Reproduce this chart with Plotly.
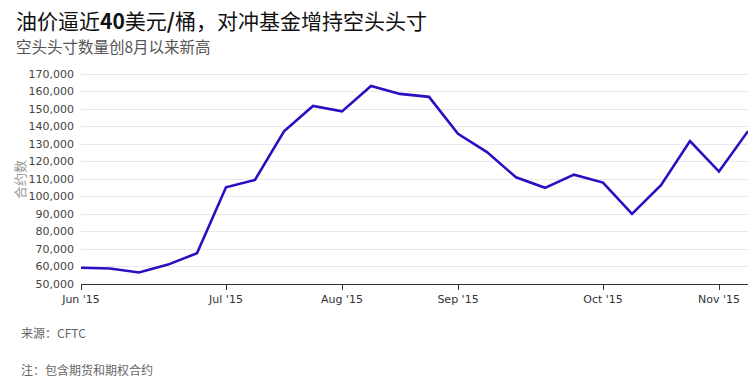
import plotly.graph_objects as go

dates = ["2015-06-02", "2015-06-09", "2015-06-16", "2015-06-23", "2015-06-30",
         "2015-07-07", "2015-07-14", "2015-07-21", "2015-07-28",
         "2015-08-04", "2015-08-11", "2015-08-18", "2015-08-25",
         "2015-09-01", "2015-09-08", "2015-09-15", "2015-09-22", "2015-09-29",
         "2015-10-06", "2015-10-13", "2015-10-20", "2015-10-27",
         "2015-11-03", "2015-11-10"]
short_positions = [59300, 58900, 56600, 61100, 67600,
                   105300, 109500, 137300, 151800,
                   148700, 163200, 158700, 157000,
                   135900, 125400, 111000, 105000, 112500,
                   108000, 90100, 106500, 131700,
                   114300, 137400]
tick_dates = ["2015-06-02", "2015-07-07", "2015-08-04", "2015-09-01", "2015-10-06", "2015-11-03"]
tick_labels = ["Jun '15", "Jul '15", "Aug '15", "Sep '15", "Oct '15", "Nov '15"]
y_ticks = list(range(50000, 170001, 10000))

CJK = "Noto Sans CJK SC"

W, H = 756, 378
pl, pr, pt, pb = 81, 8, 68, 94
pw, ph = W - pl - pr, H - pt - pb

fig = go.Figure()
fig.add_trace(go.Scatter(
    x=dates, y=short_positions, mode="lines",
    line=dict(color="#2a0fc2", width=2.6),
    hoverinfo="skip", showlegend=False,
))

fig.update_layout(
    width=W, height=H,
    margin=dict(l=pl, r=pr, t=pt, b=pb),
    paper_bgcolor="white", plot_bgcolor="white",
    xaxis=dict(
        range=["2015-06-02", "2015-11-10"],
        tickvals=tick_dates, ticktext=tick_labels,
        showgrid=False, zeroline=False,
        showline=True, linecolor="#333", linewidth=1,
        ticks="outside", ticklen=5, tickcolor="#333",
        tickfont=dict(family="DejaVu Sans", size=11, color="#333"),
    ),
    yaxis=dict(
        range=[50000, 173500],
        tickvals=y_ticks, tickformat=",d",
        showgrid=True, gridcolor="#e8e8ee", gridwidth=1,
        zeroline=False, showline=False, ticks="",
        ticklabelstandoff=6,
        tickfont=dict(family="DejaVu Sans", size=11, color="#444"),
    ),
)


def px(x):
    return (x - pl) / pw


def py(y):
    return (H - pb - y) / ph


fig.add_annotation(text="油价逼近<b>40</b>美元<b>/</b>桶，对冲基金增持空头头寸",
                   x=px(14), y=py(20), xref="paper", yref="paper",
                   xanchor="left", yanchor="middle", showarrow=False,
                   font=dict(family=CJK, size=21, color="#111"))
fig.add_annotation(text="空头头寸数量创8月以来新高",
                   x=px(14), y=py(46), xref="paper", yref="paper",
                   xanchor="left", yanchor="middle", showarrow=False,
                   font=dict(family=CJK, size=15.5, color="#555"))
fig.add_annotation(text="合约数",
                   x=px(19), y=py(180), xref="paper", yref="paper",
                   xanchor="center", yanchor="middle", showarrow=False, textangle=-90,
                   font=dict(family=CJK, size=13, color="#999"))
fig.add_annotation(text="来源：CFTC",
                   x=px(19), y=py(332), xref="paper", yref="paper",
                   xanchor="left", yanchor="middle", showarrow=False,
                   font=dict(family=CJK, size=12, color="#666"))
fig.add_annotation(text="注：包含期货和期权合约",
                   x=px(19), y=py(369), xref="paper", yref="paper",
                   xanchor="left", yanchor="middle", showarrow=False,
                   font=dict(family=CJK, size=12, color="#666"))

fig.write_html("out.html",
               config={"displayModeBar": False},
               post_script="document.body.style.margin='0';document.body.style.overflow='hidden';")
